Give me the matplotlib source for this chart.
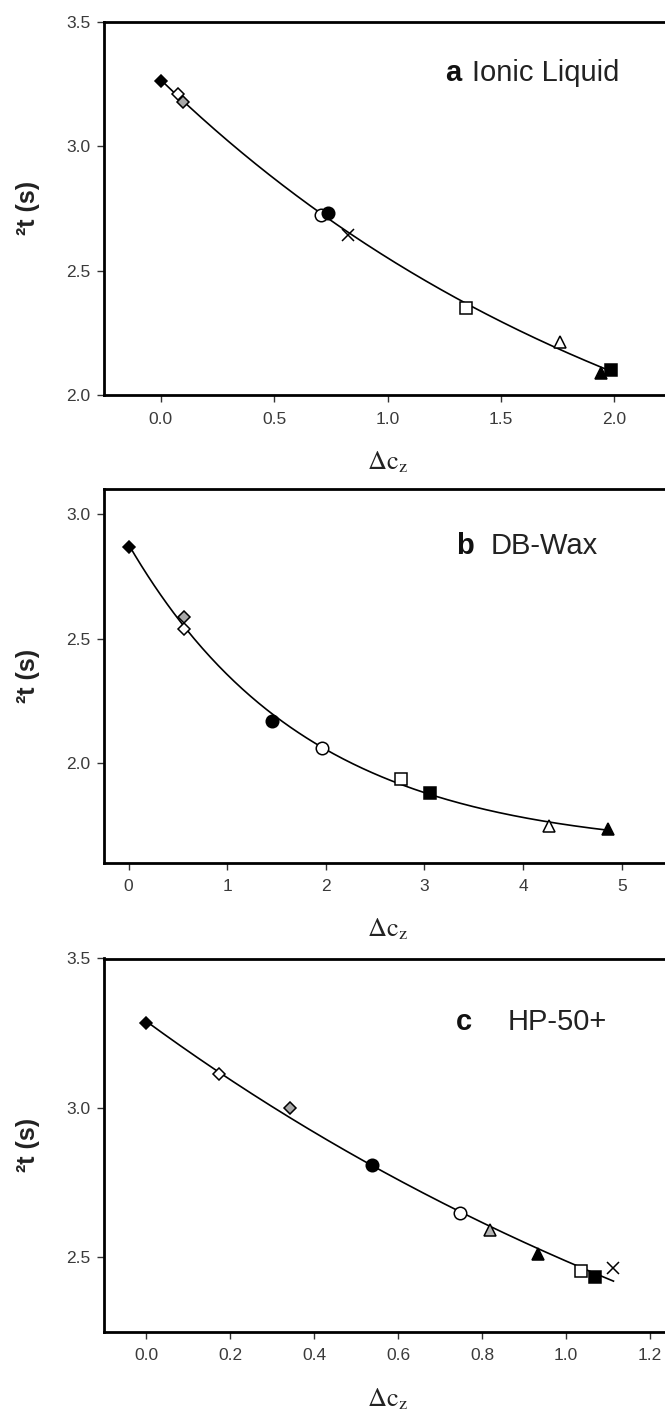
import numpy as np
import matplotlib
matplotlib.use("Agg")
import matplotlib.pyplot as plt

plt.rcParams['font.family'] = ['Liberation Sans', 'DejaVu Sans']
plt.rcParams['mathtext.fontset'] = 'stix'

# === Data ===
# symbol keys: f = filled, o = open, g = grey; d = diamond, c = circle, s = square, t = triangle, x = cross
a_x = [0.0, 0.075, 0.097, 0.707, 0.739, 0.828, 1.348, 1.762, 1.940, 1.986]
a_y = [3.263, 3.209, 3.178, 2.723, 2.730, 2.643, 2.350, 2.213, 2.090, 2.100]
a_sym = ["fd", "od", "gd", "oc", "fc", "x", "os", "ot", "ft", "fs"]

b_x = [0.0, 0.559, 0.559, 1.453, 1.956, 2.764, 3.057, 4.260, 4.858]
b_y = [2.870, 2.588, 2.537, 2.169, 2.062, 1.934, 1.879, 1.749, 1.735]
b_sym = ["fd", "gd", "od", "fc", "oc", "os", "fs", "ot", "ft"]

c_x = [0.0, 0.174, 0.343, 0.537, 0.747, 0.818, 0.933, 1.035, 1.069, 1.113]
c_y = [3.283, 3.112, 2.998, 2.809, 2.649, 2.591, 2.510, 2.452, 2.433, 2.463]
c_sym = ["fd", "od", "gd", "fc", "oc", "gt", "ft", "os", "fs", "x"]

panels = [
    dict(x=a_x, y=a_y, sym=a_sym, letter="a", name="Ionic Liquid",
         xlim=(-0.25, 2.25), ylim=(2.0, 3.5),
         xticks=[0.0, 0.5, 1.0, 1.5, 2.0], yticks=[2.0, 2.5, 3.0, 3.5], xfmt="{:.1f}",
         top_px=21.7, lx=0.601, nx=0.6485, ly=0.8626),
    dict(x=b_x, y=b_y, sym=b_sym, letter="b", name="DB-Wax",
         xlim=(-0.25, 5.5), ylim=(1.6, 3.1),
         xticks=[0, 1, 2, 3, 4, 5], yticks=[2.0, 2.5, 3.0], xfmt="{:.0f}",
         top_px=489.3, lx=0.621, nx=0.681, ly=0.848),
    dict(x=c_x, y=c_y, sym=c_sym, letter="c", name="HP-50+",
         xlim=(-0.1, 1.25), ylim=(2.25, 3.5),
         xticks=[0.0, 0.2, 0.4, 0.6, 0.8, 1.0, 1.2], yticks=[2.5, 3.0, 3.5], xfmt="{:.1f}",
         top_px=958.5, lx=0.621, nx=0.711, ly=0.8307),
]

STYLES = {
    "fd": dict(marker="D", ms=6.5, mfc="black"),
    "od": dict(marker="D", ms=6.5, mfc="white"),
    "gd": dict(marker="D", ms=6.5, mfc="#a8a8a8"),
    "fc": dict(marker="o", ms=9, mfc="black"),
    "oc": dict(marker="o", ms=9, mfc="white"),
    "fs": dict(marker="s", ms=8, mfc="black"),
    "os": dict(marker="s", ms=8, mfc="white"),
    "ft": dict(marker="^", ms=8.5, mfc="black"),
    "ot": dict(marker="^", ms=8.5, mfc="white"),
    "gt": dict(marker="^", ms=8.5, mfc="#b4b4b4"),
    "x": dict(marker="x", ms=8, mfc="none"),
}


def exp_fit(x, y):
    # y = a + b*exp(-k x), grid over k, linear least squares for a, b
    x = np.asarray(x, float)
    y = np.asarray(y, float)
    best = None
    for k in np.linspace(0.005, 3.0, 1200):
        A = np.column_stack([np.ones_like(x), np.exp(-k * x)])
        coef, *_ = np.linalg.lstsq(A, y, rcond=None)
        r = np.sum((A @ coef - y) ** 2)
        if best is None or r < best[0]:
            best = (r, k, coef)
    _, k, coef = best
    return lambda t: coef[0] + coef[1] * np.exp(-k * t)


W, H = 665, 1416
fig = plt.figure(figsize=(W / 100, H / 100), dpi=100)
ax_h_px = 373.3
tick_col = "#3a3a3a"

for p in panels:
    bottom = 1 - (p["top_px"] + ax_h_px) / H
    ax = fig.add_axes([104 / W, bottom, 567 / W, ax_h_px / H])
    ax.set_xlim(*p["xlim"])
    ax.set_ylim(*p["ylim"])

    f = exp_fit(p["x"], p["y"])
    xs = np.linspace(min(p["x"]), max(p["x"]), 300)
    ax.plot(xs, f(xs), color="black", lw=1.2, zorder=2)

    for xv, yv, s in zip(p["x"], p["y"], p["sym"]):
        st = STYLES[s]
        ax.plot([xv], [yv], linestyle="none", marker=st["marker"], ms=st["ms"],
                mfc=st["mfc"], mec="black", mew=1.1, zorder=3)

    ax.set_xticks(p["xticks"])
    ax.set_xticklabels([p["xfmt"].format(v) for v in p["xticks"]])
    ax.set_yticks(p["yticks"])
    ax.set_yticklabels(["{:.1f}".format(v) for v in p["yticks"]])
    ax.tick_params(axis="both", direction="out", length=5, width=1.0,
                   labelsize=12.5, labelcolor=tick_col, color="#333333")
    ax.tick_params(axis="x", pad=7)
    ax.tick_params(axis="y", pad=5)
    for sp in ax.spines.values():
        sp.set_linewidth(2.0)

    ax.text(-76 / 567, 0.5, "²t (s)", transform=ax.transAxes, rotation=90,
            ha="center", va="center", fontsize=18, fontweight="bold", color="#222222")
    ax.text(0.5, -67 / ax_h_px, r"$\mathrm{\Delta c_z}$", transform=ax.transAxes,
            ha="center", va="center", fontsize=19, color="#222222")

    ax.text(p["lx"], p["ly"], p["letter"], transform=ax.transAxes,
            ha="left", va="center", fontsize=21, fontweight="bold", color="#111111")
    ax.text(p["nx"], p["ly"], p["name"], transform=ax.transAxes,
            ha="left", va="center", fontsize=21, color="#222222")

fig.savefig("out.png", dpi=100)
